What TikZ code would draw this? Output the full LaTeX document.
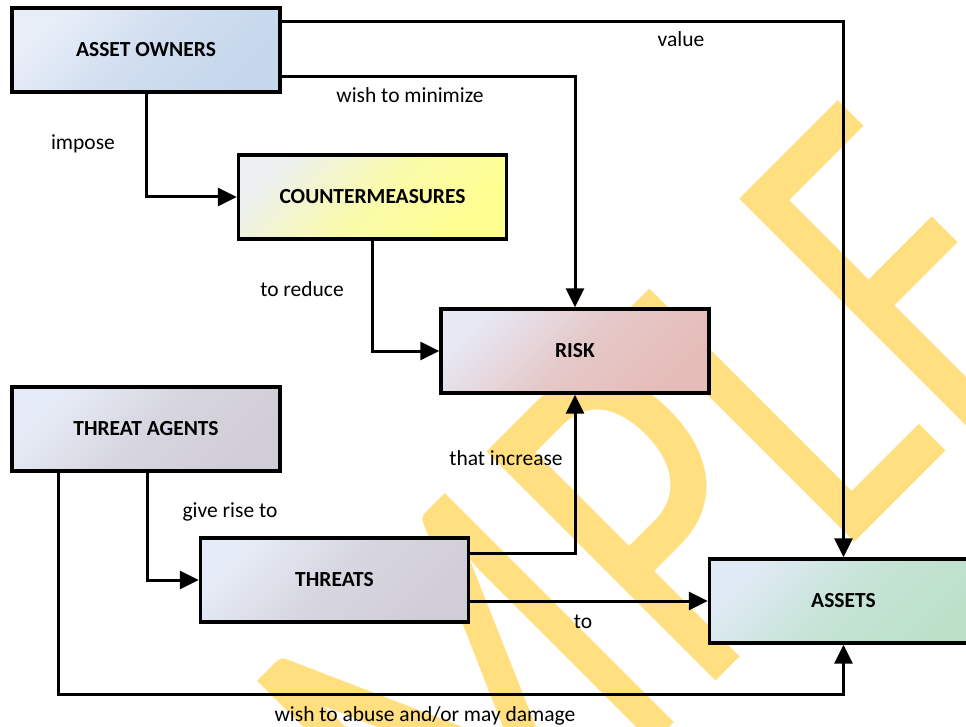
\documentclass[tikz,border=0pt]{standalone}
\usepackage{fontspec}
\setmainfont{Carlito}
\usetikzlibrary{arrows.meta}

\definecolor{wmyellow}{HTML}{FFDF80}
\definecolor{aoA}{HTML}{E8EEF8}\definecolor{aoB}{HTML}{C6D7EC}
\definecolor{cmA}{HTML}{ECF0F0}\definecolor{cmB}{HTML}{FFFF90}
\definecolor{rkA}{HTML}{E6E8F3}\definecolor{rkB}{HTML}{E5BCB8}
\definecolor{taA}{HTML}{E6ECF7}\definecolor{taB}{HTML}{D1CDD6}
\definecolor{asA}{HTML}{E0EAF5}\definecolor{asB}{HTML}{BBE1C9}

\begin{document}
\begin{tikzpicture}[x=1pt,y=-1pt,
  box/.style={draw=black, line width=3.3pt, minimum width=268pt, minimum height=84pt,
    inner sep=0pt, font=\fontsize{21.5}{24}\selectfont\bfseries},
  grad/.style 2 args={top color=#1, bottom color=#2, middle color=#2!72!#1, shading angle=45},
  conn/.style={line width=3pt, -{Triangle[length=19pt,width=18pt]}},
  lbl/.style={font=\fontsize{21.5}{24}\selectfont, inner sep=0pt, anchor=base},
  wmtext/.style={anchor=base west, rotate=45, xscale=0.76, inner sep=0pt,
    text=wmyellow, font=\fontsize{505}{505}\selectfont},
]
\useasboundingbox (0,0) rectangle (966,727);
\clip (0,0) rectangle (966,727);
\fill[white] (0,0) rectangle (966,727);

% watermark lettering behind the diagram
\node[wmtext] (wm) at (464.5,932.5) {MPLF};

% boxes
\node[box, grad={aoA}{aoB}] (ao) at (146,50) {ASSET OWNERS};
\node[box, grad={cmA}{cmB}] (cm) at (372.5,197) {COUNTERMEASURES};
\node[box, grad={rkA}{rkB}] (risk) at (575,351) {RISK};
\node[box, grad={taA}{taB}] (ta) at (146,429) {THREAT AGENTS};
\node[box, grad={taA}{taB}] (threats) at (334.5,580) {THREATS};
\node[box, grad={asA}{asB}] (assets) at (843.5,601) {ASSETS};

% connectors
\draw[conn] ([yshift=-15pt]ao.north east) -| (assets.north);
\draw[conn] ([yshift=17pt]ao.south east) -| (risk.north);
\draw[conn] (ao.south) |- (cm.west);
\draw[conn] (cm.south) |- (risk.west);
\draw[conn] ([xshift=1pt]ta.south) |- (threats.west);
\draw[conn] ([xshift=48pt]ta.south west) -- ++(0,222) -| (assets.south);
\draw[conn] ([yshift=-17pt]threats.north east) -| (risk.south);
\draw[conn] (threats.east |- assets.west) -- (assets.west);

% connector labels
\node[lbl] (l1) at (681,47) {value};
\node[lbl] (l2) at (410,103) {wish to minimize};
\node[lbl] (l3) at (83,150) {impose};
\node[lbl] (l4) at (302,296) {to reduce};
\node[lbl] (l5) at (506,465) {that increase};
\node[lbl] (l6) at (230,517) {give rise to};
\node[lbl] (l7) at (583,628) {to};
\node[lbl] (l8) at (425,721) {wish to abuse and/or may damage};
\end{tikzpicture}
\end{document}
